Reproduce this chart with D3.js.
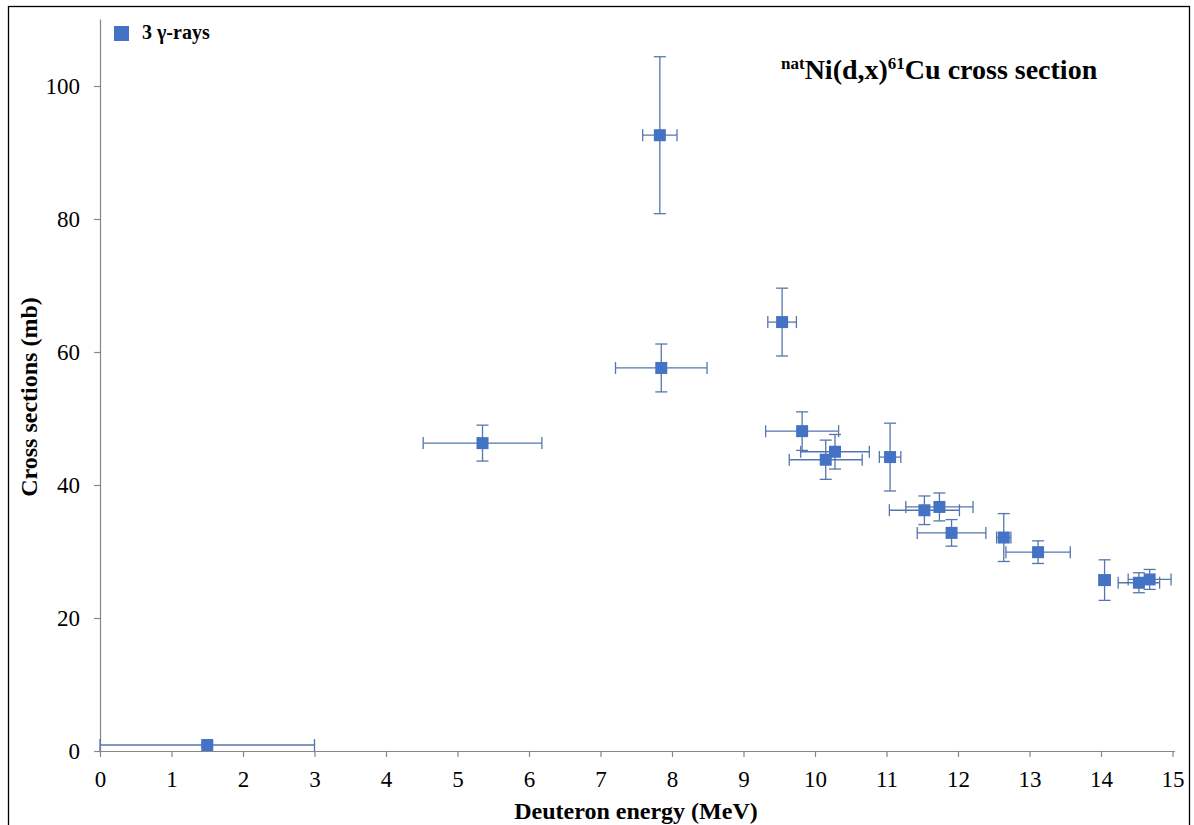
<!DOCTYPE html>
<html><head><meta charset="utf-8">
<script src="https://cdn.jsdelivr.net/npm/d3@7"></script>
<style>html,body{margin:0;padding:0;background:#fff;}svg{display:block;font-family:"Liberation Serif","Times New Roman",serif;}</style>
</head><body>
<script>
const energy  = [1.5, 5.35, 7.83, 7.85, 9.54, 9.82, 10.15, 10.28, 11.05, 11.53, 11.74, 11.91, 12.64, 13.12, 14.05, 14.53, 14.68];
const energyErr = [1.5, 0.83, 0.24, 0.64, 0.2, 0.51, 0.51, 0.48, 0.15, 0.49, 0.47, 0.48, 0.1, 0.45, 0.08, 0.29, 0.3];
const xsec    = [0.9, 46.3, 92.6, 57.6, 64.5, 48.1, 43.8, 45.0, 44.2, 36.2, 36.7, 32.8, 32.1, 29.9, 25.7, 25.3, 25.8];
const xsecErr = [0.3, 2.7, 11.8, 3.6, 5.1, 2.9, 2.95, 2.6, 5.1, 2.15, 2.1, 2.0, 3.6, 1.7, 3.05, 1.5, 1.5];
const xTicks = [0,1,2,3,4,5,6,7,8,9,10,11,12,13,14,15];
const yTicks = [0,20,40,60,80,100];
const seriesName = "3 γ-rays";

const W = 1194, H = 825;
const svg = d3.select("body").append("svg").attr("width", W).attr("height", H);
svg.append("rect").attr("x",8.5).attr("y",6.5).attr("width",1181).attr("height",840)
  .attr("fill","#fff").attr("stroke","#000").attr("stroke-width",1.3);

const x = d3.scaleLinear().domain([0,15]).range([100,1172.5]);
const y = d3.scaleLinear().domain([0,110]).range([751,19.5]);
const axisColor = "#868686";

// axes
const xAxis = svg.append("g").attr("transform","translate(0,751)")
  .call(d3.axisBottom(x).tickValues(xTicks).tickSize(6).tickPadding(14).tickFormat(d3.format("d")));
xAxis.select(".domain").attr("d","M100,0.5H1175");
const yAxis = svg.append("g").attr("transform","translate(100,0)")
  .call(d3.axisLeft(y).tickValues(yTicks).tickSize(6).tickPadding(14).tickFormat(d3.format("d")));
yAxis.select(".domain").attr("d","M0.5,751V19.5");
svg.selectAll(".domain").attr("stroke",axisColor).attr("stroke-width",1.2);
svg.selectAll(".tick line").attr("stroke",axisColor).attr("stroke-width",1.2);
svg.selectAll(".tick text").attr("fill","#000").attr("font-size",23).attr("font-family","Liberation Serif");

// error bars
const errColor = "#5576ad";
const data = energy.map((e,i)=>({e, ee:energyErr[i], s:xsec[i], se:xsecErr[i]}));
const eb = svg.append("g").attr("stroke",errColor).attr("stroke-width",1.3).attr("fill","none");
const cap = 6;
data.forEach(d=>{
  const cx = x(d.e), cy = y(d.s);
  const x0 = x(d.e-d.ee), x1 = x(d.e+d.ee), y0 = y(d.s-d.se), y1 = y(d.s+d.se);
  eb.append("line").attr("x1",x0).attr("x2",x1).attr("y1",cy).attr("y2",cy);
  eb.append("line").attr("x1",x0).attr("x2",x0).attr("y1",cy-cap).attr("y2",cy+cap);
  eb.append("line").attr("x1",x1).attr("x2",x1).attr("y1",cy-cap).attr("y2",cy+cap);
  eb.append("line").attr("x1",cx).attr("x2",cx).attr("y1",y0).attr("y2",y1);
  eb.append("line").attr("x1",cx-cap).attr("x2",cx+cap).attr("y1",y0).attr("y2",y0);
  eb.append("line").attr("x1",cx-cap).attr("x2",cx+cap).attr("y1",y1).attr("y2",y1);
});

// markers
const ms = 12;
svg.append("g").selectAll("rect").data(data).join("rect")
  .attr("x",d=>x(d.e)-ms/2).attr("y",d=>y(d.s)-ms/2)
  .attr("width",ms).attr("height",ms).attr("fill","#4472c4");

// legend
svg.append("rect").attr("x",114).attr("y",26).attr("width",15).attr("height",15).attr("fill","#4472c4");
svg.append("text").attr("x",142).attr("y",39).attr("font-size",20).attr("font-weight","bold").text(seriesName);

// title
const t = svg.append("text").attr("x",781).attr("y",79).attr("font-size",28).attr("font-weight","bold");
t.append("tspan").attr("font-size",17).attr("dy",-10).text("nat");
t.append("tspan").attr("dy",10).text("Ni(d,x)");
t.append("tspan").attr("font-size",17).attr("dy",-10).text("61");
t.append("tspan").attr("dy",10).text("Cu cross section");

// axis titles
svg.append("text").attr("x",636).attr("y",819).attr("text-anchor","middle")
  .attr("font-size",24).attr("font-weight","bold").text("Deuteron energy (MeV)");
svg.append("text").attr("transform","translate(37,397) rotate(-90)").attr("text-anchor","middle")
  .attr("font-size",24).attr("font-weight","bold").text("Cross sections (mb)");
</script>
</body></html>
